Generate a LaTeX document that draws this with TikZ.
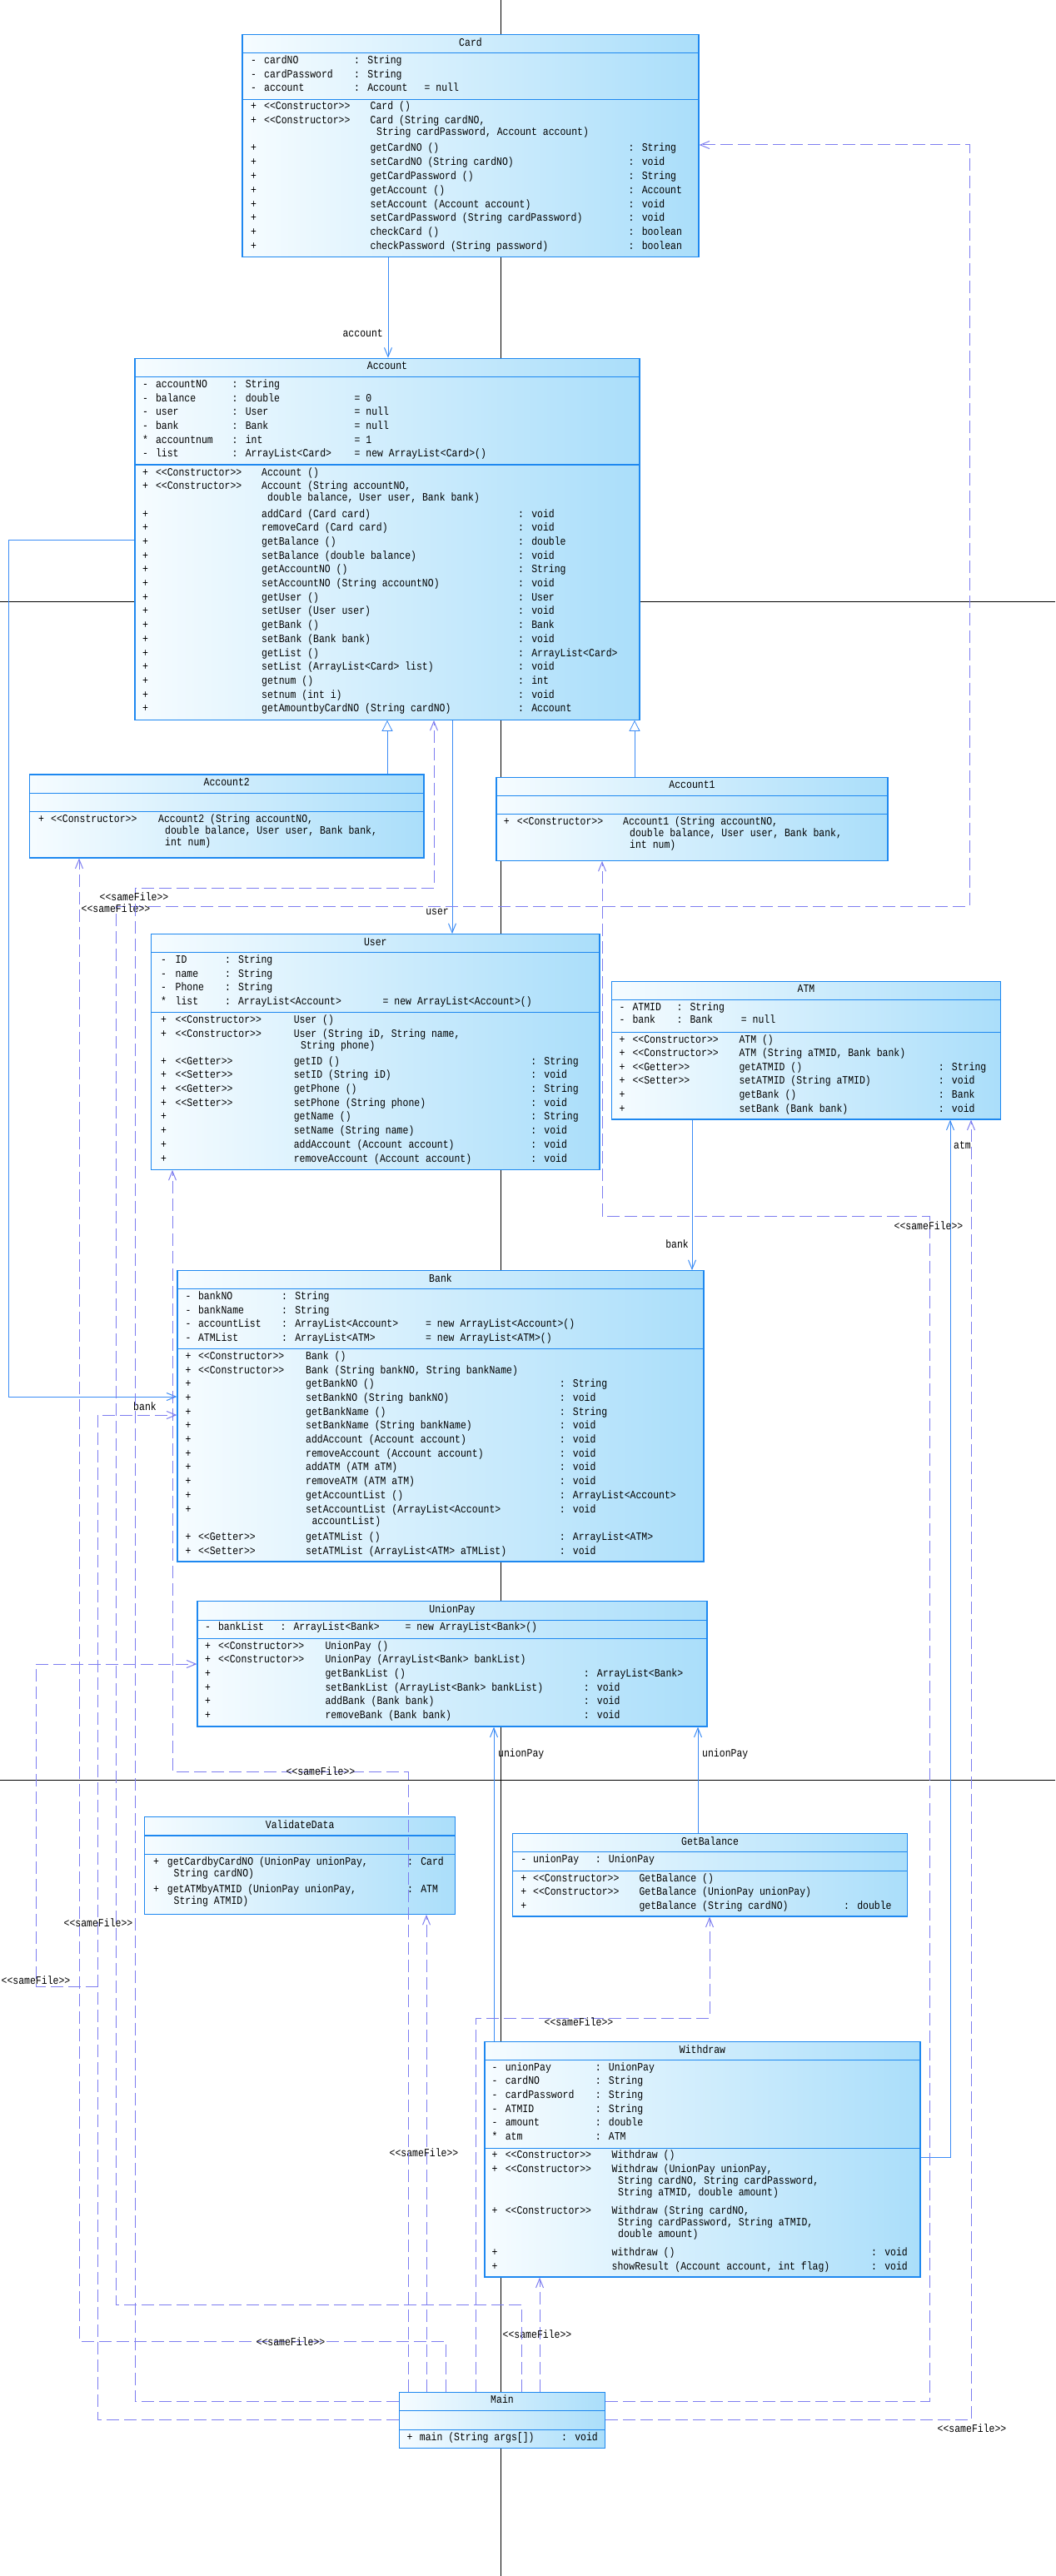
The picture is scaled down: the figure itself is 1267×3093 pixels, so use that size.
\documentclass[tikz,border=0pt]{standalone}
\usepackage{fontspec}
\setmainfont{Liberation Mono}[FakeStretch=0.85]
\usetikzlibrary{arrows.meta,fit}
\definecolor{boxc}{RGB}{30,136,240}
\definecolor{fillL}{RGB}{246,252,255}
\definecolor{fillR}{RGB}{170,222,250}
\definecolor{assoc}{RGB}{60,140,245}
\definecolor{dep}{RGB}{125,125,240}
\newcommand\st[1]{<\kern0pt<#1>\kern0pt>}
\newcounter{tn}
\newcommand\Tx[3]{\stepcounter{tn}\node[txt] (t\arabic{tn}) at (#1,#2) {#3};}
\newcommand\umlclass[8]{%
  \shade[left color=fillL, right color=fillR] (#2,#3) rectangle (#4,#5);
  \shade[left color=fillL, right color=fillR] (#2,#5) rectangle (#4,#6);
  \shade[left color=fillL, right color=fillR] (#2,#6) rectangle (#4,#7);
  \draw[boxc, line width=1.2pt] (#2,#5) -- (#4,#5) (#2,#6) -- (#4,#6);
  \node[fit={(#2,#3) (#4,#7)}, inner sep=0, draw=boxc, line width=1.2pt] (#1) {};
  \node[ttl] (#1-title) at ({(#2+#4)/2},{(#3+#5)/2}) {#8};
}
\tikzset{
 txt/.style={anchor=mid west, inner sep=0, font=\fontsize{13.5}{16}\selectfont},
 ttl/.style={anchor=mid, inner sep=0, font=\fontsize{13.5}{16}\selectfont},
 lbl/.style={inner sep=0, font=\fontsize{13.5}{16}\selectfont},
 assocline/.style={draw=assoc, line width=1pt, -{Straight Barb[length=11pt,width=9pt]}},
 inherit/.style={draw=assoc, line width=0.8pt, -{Triangle[open,length=13pt,width=13pt,fill=white]}},
 depline/.style={draw=dep, line width=1pt, dash pattern=on 15pt off 6pt, -{Straight Barb[length=11pt,width=9pt]}},
 pageline/.style={draw=black, line width=0.8pt},
}
\begin{document}
\begin{tikzpicture}[x=1pt,y=-1pt]
\fill[white] (0,0) rectangle (1267,3093);
\useasboundingbox (0,0) rectangle (1267,3093);
\draw[pageline] (601,0) -- (601,3093);
\draw[pageline] (0,722) -- (1267,722);
\draw[pageline] (0,2137) -- (1267,2137);

% ---------------- Card
\umlclass{card}{291}{41.7}{839}{63.3}{119.3}{308.3}{Card}
\Tx{301}{73.7}{-}\Tx{317}{73.7}{cardNO}\Tx{425}{73.7}{: String}
\Tx{301}{90.7}{-}\Tx{317}{90.7}{cardPassword}\Tx{425}{90.7}{: String}
\Tx{301}{106.7}{-}\Tx{317}{106.7}{account}\Tx{425}{106.7}{: Account}\Tx{509.5}{106.7}{= null}
\Tx{301}{129.3}{+}\Tx{317}{129.3}{\st{Constructor}}\Tx{444.5}{129.3}{Card ()}
\Tx{301}{145.7}{+}\Tx{317}{145.7}{\st{Constructor}}\Tx{444.5}{145.7}{Card (String cardNO,}
\Tx{452}{159.7}{String cardPassword, Account account)}
\Tx{301}{179.3}{+}\Tx{444.5}{179.3}{getCardNO ()}\Tx{754.5}{179.3}{: String}
\Tx{301}{195.7}{+}\Tx{444.5}{195.7}{setCardNO (String cardNO)}\Tx{754.5}{195.7}{: void}
\Tx{301}{212.7}{+}\Tx{444.5}{212.7}{getCardPassword ()}\Tx{754.5}{212.7}{: String}
\Tx{301}{229.7}{+}\Tx{444.5}{229.7}{getAccount ()}\Tx{754.5}{229.7}{: Account}
\Tx{301}{246.7}{+}\Tx{444.5}{246.7}{setAccount (Account account)}\Tx{754.5}{246.7}{: void}
\Tx{301}{262.7}{+}\Tx{444.5}{262.7}{setCardPassword (String cardPassword)}\Tx{754.5}{262.7}{: void}
\Tx{301}{279.7}{+}\Tx{444.5}{279.7}{checkCard ()}\Tx{754.5}{279.7}{: boolean}
\Tx{301}{296.7}{+}\Tx{444.5}{296.7}{checkPassword (String password)}\Tx{754.5}{296.7}{: boolean}

% ---------------- Account
\umlclass{account}{162}{430.3}{768}{452.3}{558}{864.3}{Account}
\Tx{171}{462.7}{-}\Tx{186.8}{462.7}{accountNO}\Tx{278.5}{462.7}{: String}
\Tx{171}{479.7}{-}\Tx{186.8}{479.7}{balance}\Tx{278.5}{479.7}{: double}\Tx{425.4}{479.7}{= 0}
\Tx{171}{495.7}{-}\Tx{186.8}{495.7}{user}\Tx{278.5}{495.7}{: User}\Tx{425.4}{495.7}{= null}
\Tx{171}{512.7}{-}\Tx{186.8}{512.7}{bank}\Tx{278.5}{512.7}{: Bank}\Tx{425.4}{512.7}{= null}
\Tx{171}{529.7}{*}\Tx{186.8}{529.7}{accountnum}\Tx{278.5}{529.7}{: int}\Tx{425.4}{529.7}{= 1}
\Tx{171}{545.7}{-}\Tx{186.8}{545.7}{list}\Tx{278.5}{545.7}{: ArrayList<Card>}\Tx{425.4}{545.7}{= new ArrayList<Card>()}
\Tx{171}{568.7}{+}\Tx{186.8}{568.7}{\st{Constructor}}\Tx{314}{568.7}{Account ()}
\Tx{171}{584.7}{+}\Tx{186.8}{584.7}{\st{Constructor}}\Tx{314}{584.7}{Account (String accountNO,}
\Tx{321}{598.7}{double balance, User user, Bank bank)}
\Tx{171}{618.7}{+}\Tx{314}{618.7}{addCard (Card card)}\Tx{622}{618.7}{: void}
\Tx{171}{634.7}{+}\Tx{314}{634.7}{removeCard (Card card)}\Tx{622}{634.7}{: void}
\Tx{171}{651.7}{+}\Tx{314}{651.7}{getBalance ()}\Tx{622}{651.7}{: double}
\Tx{171}{668.7}{+}\Tx{314}{668.7}{setBalance (double balance)}\Tx{622}{668.7}{: void}
\Tx{171}{684.7}{+}\Tx{314}{684.7}{getAccountNO ()}\Tx{622}{684.7}{: String}
\Tx{171}{701.7}{+}\Tx{314}{701.7}{setAccountNO (String accountNO)}\Tx{622}{701.7}{: void}
\Tx{171}{718.7}{+}\Tx{314}{718.7}{getUser ()}\Tx{622}{718.7}{: User}
\Tx{171}{734.7}{+}\Tx{314}{734.7}{setUser (User user)}\Tx{622}{734.7}{: void}
\Tx{171}{751.7}{+}\Tx{314}{751.7}{getBank ()}\Tx{622}{751.7}{: Bank}
\Tx{171}{768.7}{+}\Tx{314}{768.7}{setBank (Bank bank)}\Tx{622}{768.7}{: void}
\Tx{171}{785.7}{+}\Tx{314}{785.7}{getList ()}\Tx{622}{785.7}{: ArrayList<Card>}
\Tx{171}{801.7}{+}\Tx{314}{801.7}{setList (ArrayList<Card> list)}\Tx{622}{801.7}{: void}
\Tx{171}{818.7}{+}\Tx{314}{818.7}{getnum ()}\Tx{622}{818.7}{: int}
\Tx{171}{835.7}{+}\Tx{314}{835.7}{setnum (int i)}\Tx{622}{835.7}{: void}
\Tx{171}{852}{+}\Tx{314}{852}{getAmountbyCardNO (String cardNO)}\Tx{622}{852}{: Account}

% ---------------- Account2
\umlclass{account2}{35.5}{930}{509}{952.3}{974.3}{1030}{Account2}
\Tx{46}{985.3}{+}\Tx{61}{985.3}{\st{Constructor}}\Tx{190}{985.3}{Account2 (String accountNO,}
\Tx{198}{999.3}{double balance, User user, Bank bank,}
\Tx{198}{1013.3}{int num)}

% ---------------- Account1
\umlclass{account1}{596}{933.3}{1066}{955.3}{977.3}{1033.3}{Account1}
\Tx{604.7}{987.7}{+}\Tx{620.7}{987.7}{\st{Constructor}}\Tx{748}{987.7}{Account1 (String accountNO,}
\Tx{756}{1002.3}{double balance, User user, Bank bank,}
\Tx{756}{1016}{int num)}

% ---------------- User
\umlclass{user}{181.6}{1121.7}{720}{1143.3}{1215.7}{1404.3}{User}
\Tx{193}{1153.7}{-}\Tx{210.5}{1153.7}{ID}\Tx{269.8}{1153.7}{: String}
\Tx{193}{1170.7}{-}\Tx{210.5}{1170.7}{name}\Tx{269.8}{1170.7}{: String}
\Tx{193}{1186.7}{-}\Tx{210.5}{1186.7}{Phone}\Tx{269.8}{1186.7}{: String}
\Tx{193}{1203.7}{*}\Tx{210.5}{1203.7}{list}\Tx{269.8}{1203.7}{: ArrayList<Account>}\Tx{459.5}{1203.7}{= new ArrayList<Account>()}
\Tx{193}{1225.7}{+}\Tx{210.5}{1225.7}{\st{Constructor}}\Tx{352.6}{1225.7}{User ()}
\Tx{193}{1242.7}{+}\Tx{210.5}{1242.7}{\st{Constructor}}\Tx{352.6}{1242.7}{User (String iD, String name,}
\Tx{360.8}{1256.7}{String phone)}
\Tx{193}{1275.7}{+}\Tx{210.5}{1275.7}{\st{Getter}}\Tx{352.6}{1275.7}{getID ()}\Tx{637.1}{1275.7}{: String}
\Tx{193}{1292.3}{+}\Tx{210.5}{1292.3}{\st{Setter}}\Tx{352.6}{1292.3}{setID (String iD)}\Tx{637.1}{1292.3}{: void}
\Tx{193}{1308.7}{+}\Tx{210.5}{1308.7}{\st{Getter}}\Tx{352.6}{1308.7}{getPhone ()}\Tx{637.1}{1308.7}{: String}
\Tx{193}{1325.7}{+}\Tx{210.5}{1325.7}{\st{Setter}}\Tx{352.6}{1325.7}{setPhone (String phone)}\Tx{637.1}{1325.7}{: void}
\Tx{193}{1342.3}{+}\Tx{352.6}{1342.3}{getName ()}\Tx{637.1}{1342.3}{: String}
\Tx{193}{1358.7}{+}\Tx{352.6}{1358.7}{setName (String name)}\Tx{637.1}{1358.7}{: void}
\Tx{193}{1375.7}{+}\Tx{352.6}{1375.7}{addAccount (Account account)}\Tx{637.1}{1375.7}{: void}
\Tx{193}{1392.7}{+}\Tx{352.6}{1392.7}{removeAccount (Account account)}\Tx{637.1}{1392.7}{: void}

% ---------------- ATM
\umlclass{atm}{734.3}{1178.3}{1201.7}{1200.3}{1239.3}{1344}{ATM}
\Tx{743.3}{1210.7}{-}\Tx{759.3}{1210.7}{ATMID}\Tx{812.3}{1210.7}{: String}
\Tx{743.3}{1226}{-}\Tx{759.3}{1226}{bank}\Tx{812.3}{1226}{: Bank}\Tx{889.7}{1226}{= null}
\Tx{743.3}{1250}{+}\Tx{759.3}{1250}{\st{Constructor}}\Tx{887.3}{1250}{ATM ()}
\Tx{743.3}{1266}{+}\Tx{759.3}{1266}{\st{Constructor}}\Tx{887.3}{1266}{ATM (String aTMID, Bank bank)}
\Tx{743.3}{1282.7}{+}\Tx{759.3}{1282.7}{\st{Getter}}\Tx{887.3}{1282.7}{getATMID ()}\Tx{1126.7}{1282.7}{: String}
\Tx{743.3}{1299.3}{+}\Tx{759.3}{1299.3}{\st{Setter}}\Tx{887.3}{1299.3}{setATMID (String aTMID)}\Tx{1126.7}{1299.3}{: void}
\Tx{743.3}{1315.7}{+}\Tx{887.3}{1315.7}{getBank ()}\Tx{1126.7}{1315.7}{: Bank}
\Tx{743.3}{1332.7}{+}\Tx{887.3}{1332.7}{setBank (Bank bank)}\Tx{1126.7}{1332.7}{: void}

% ---------------- Bank
\umlclass{bank}{213}{1525.7}{845}{1547.3}{1619.3}{1875}{Bank}
\Tx{222.5}{1557.7}{-}\Tx{237.8}{1557.7}{bankNO}\Tx{338}{1557.7}{: String}
\Tx{222.5}{1574.7}{-}\Tx{237.8}{1574.7}{bankName}\Tx{338}{1574.7}{: String}
\Tx{222.5}{1591}{-}\Tx{237.8}{1591}{accountList}\Tx{338}{1591}{: ArrayList<Account>}\Tx{511}{1591}{= new ArrayList<Account>()}
\Tx{222.5}{1607.7}{-}\Tx{237.8}{1607.7}{ATMList}\Tx{338}{1607.7}{: ArrayList<ATM>}\Tx{511}{1607.7}{= new ArrayList<ATM>()}
\Tx{222.5}{1629.7}{+}\Tx{237.8}{1629.7}{\st{Constructor}}\Tx{367}{1629.7}{Bank ()}
\Tx{222.5}{1646.7}{+}\Tx{237.8}{1646.7}{\st{Constructor}}\Tx{367}{1646.7}{Bank (String bankNO, String bankName)}
\Tx{222.5}{1662.7}{+}\Tx{367}{1662.7}{getBankNO ()}\Tx{671.6}{1662.7}{: String}
\Tx{222.5}{1679.7}{+}\Tx{367}{1679.7}{setBankNO (String bankNO)}\Tx{671.6}{1679.7}{: void}
\Tx{222.5}{1696.7}{+}\Tx{367}{1696.7}{getBankName ()}\Tx{671.6}{1696.7}{: String}
\Tx{222.5}{1713}{+}\Tx{367}{1713}{setBankName (String bankName)}\Tx{671.6}{1713}{: void}
\Tx{222.5}{1729.7}{+}\Tx{367}{1729.7}{addAccount (Account account)}\Tx{671.6}{1729.7}{: void}
\Tx{222.5}{1746.7}{+}\Tx{367}{1746.7}{removeAccount (Account account)}\Tx{671.6}{1746.7}{: void}
\Tx{222.5}{1763.3}{+}\Tx{367}{1763.3}{addATM (ATM aTM)}\Tx{671.6}{1763.3}{: void}
\Tx{222.5}{1780}{+}\Tx{367}{1780}{removeATM (ATM aTM)}\Tx{671.6}{1780}{: void}
\Tx{222.5}{1796.7}{+}\Tx{367}{1796.7}{getAccountList ()}\Tx{671.6}{1796.7}{: ArrayList<Account>}
\Tx{222.5}{1813.7}{+}\Tx{367}{1813.7}{setAccountList (ArrayList<Account>}\Tx{671.6}{1813.7}{: void}
\Tx{374.4}{1827.7}{accountList)}
\Tx{222.5}{1846.7}{+}\Tx{237.8}{1846.7}{\st{Getter}}\Tx{367}{1846.7}{getATMList ()}\Tx{671.6}{1846.7}{: ArrayList<ATM>}
\Tx{222.5}{1863.7}{+}\Tx{237.8}{1863.7}{\st{Setter}}\Tx{367}{1863.7}{setATMList (ArrayList<ATM> aTMList)}\Tx{671.6}{1863.7}{: void}

% ---------------- UnionPay
\umlclass{unionpay}{237}{1922.3}{849}{1945.7}{1967.3}{2073}{UnionPay}
\Tx{245.8}{1955}{-}\Tx{261.8}{1955}{bankList}\Tx{336.3}{1955}{: ArrayList<Bank>}\Tx{486.5}{1955}{= new ArrayList<Bank>()}
\Tx{245.8}{1978}{+}\Tx{261.8}{1978}{\st{Constructor}}\Tx{390.4}{1978}{UnionPay ()}
\Tx{245.8}{1994.3}{+}\Tx{261.8}{1994.3}{\st{Constructor}}\Tx{390.4}{1994.3}{UnionPay (ArrayList<Bank> bankList)}
\Tx{245.8}{2011}{+}\Tx{390.4}{2011}{getBankList ()}\Tx{700.7}{2011}{: ArrayList<Bank>}
\Tx{245.8}{2027.7}{+}\Tx{390.4}{2027.7}{setBankList (ArrayList<Bank> bankList)}\Tx{700.7}{2027.7}{: void}
\Tx{245.8}{2043.7}{+}\Tx{390.4}{2043.7}{addBank (Bank bank)}\Tx{700.7}{2043.7}{: void}
\Tx{245.8}{2060.7}{+}\Tx{390.4}{2060.7}{removeBank (Bank bank)}\Tx{700.7}{2060.7}{: void}

% ---------------- ValidateData
\umlclass{validatedata}{173.7}{2181.7}{546.7}{2204}{2226.3}{2298.3}{ValidateData}
\Tx{184}{2237}{+}\Tx{200.7}{2237}{getCardbyCardNO (UnionPay unionPay,}\Tx{489}{2237}{: Card}
\Tx{208.5}{2251}{String cardNO)}
\Tx{184}{2270.3}{+}\Tx{200.7}{2270.3}{getATMbyATMID (UnionPay unionPay,}\Tx{489}{2270.3}{: ATM}
\Tx{208.5}{2284.3}{String ATMID)}

% ---------------- GetBalance
\umlclass{getbalance}{615.7}{2201.7}{1089.4}{2223.3}{2246.3}{2301}{GetBalance}
\Tx{625.2}{2233.7}{-}\Tx{640}{2233.7}{unionPay}\Tx{714.6}{2233.7}{: UnionPay}
\Tx{625.2}{2257.3}{+}\Tx{640}{2257.3}{\st{Constructor}}\Tx{767.3}{2257.3}{GetBalance ()}
\Tx{625.2}{2273.3}{+}\Tx{640}{2273.3}{\st{Constructor}}\Tx{767.3}{2273.3}{GetBalance (UnionPay unionPay)}
\Tx{625.2}{2289.7}{+}\Tx{767.3}{2289.7}{getBalance (String cardNO)}\Tx{1013}{2289.7}{: double}

% ---------------- Withdraw
\umlclass{withdraw}{582}{2451.7}{1105}{2473.3}{2579.7}{2734}{Withdraw}
\Tx{590.5}{2484}{-}\Tx{606.6}{2484}{unionPay}\Tx{714.6}{2484}{: UnionPay}
\Tx{590.5}{2500}{-}\Tx{606.6}{2500}{cardNO}\Tx{714.6}{2500}{: String}
\Tx{590.5}{2516.7}{-}\Tx{606.6}{2516.7}{cardPassword}\Tx{714.6}{2516.7}{: String}
\Tx{590.5}{2533.7}{-}\Tx{606.6}{2533.7}{ATMID}\Tx{714.6}{2533.7}{: String}
\Tx{590.5}{2549.7}{-}\Tx{606.6}{2549.7}{amount}\Tx{714.6}{2549.7}{: double}
\Tx{590.5}{2567}{*}\Tx{606.6}{2567}{atm}\Tx{714.6}{2567}{: ATM}
\Tx{590.5}{2588.7}{+}\Tx{606.6}{2588.7}{\st{Constructor}}\Tx{734.5}{2588.7}{Withdraw ()}
\Tx{590.5}{2606}{+}\Tx{606.6}{2606}{\st{Constructor}}\Tx{734.5}{2606}{Withdraw (UnionPay unionPay,}
\Tx{742}{2620}{String cardNO, String cardPassword,}
\Tx{742}{2634}{String aTMID, double amount)}
\Tx{590.5}{2655.7}{+}\Tx{606.6}{2655.7}{\st{Constructor}}\Tx{734.5}{2655.7}{Withdraw (String cardNO,}
\Tx{742}{2670}{String cardPassword, String aTMID,}
\Tx{742}{2684}{double amount)}
\Tx{590.5}{2705.7}{+}\Tx{734.5}{2705.7}{withdraw ()}\Tx{1046}{2705.7}{: void}
\Tx{590.5}{2722.7}{+}\Tx{734.5}{2722.7}{showResult (Account account, int flag)}\Tx{1046}{2722.7}{: void}

% ---------------- Main
\umlclass{main}{479.5}{2872.3}{726.5}{2894.3}{2917.3}{2939.3}{Main}
\Tx{488.3}{2928}{+}\Tx{503.7}{2928}{main (String args[])}\Tx{674}{2928}{: void}

% ---------------- associations
\draw[assocline] (466,0 |- card.south) -- (466,0 |- account.north);
\node[lbl, anchor=east] (lacc) at (460,400) {account};
\draw[assocline] (543,0 |- account.south) -- (543,0 |- user.north);
\node[lbl, anchor=east] (luser) at (539,1095) {user};
\draw[assocline] (account.west |- 0,648) -- (10,648) -- (10,1677) -- (bank.west |- 0,1677);
\node[lbl] (lbank1) at (174,1689) {bank};
\draw[assocline] (831,0 |- atm.south) -- (831,0 |- bank.north);
\node[lbl, anchor=east] (lbank2) at (827,1494) {bank};
\draw[assocline] (withdraw.east |- 0,2590) -- (1141,2590) -- (1141,0 |- atm.south);
\node[lbl, anchor=west] (latm) at (1145,1375) {atm};
\draw[assocline] (593,0 |- withdraw.north) -- (593,0 |- unionpay.south);
\node[lbl, anchor=west] (lup1) at (598,2106) {unionPay};
\draw[assocline] (838,0 |- getbalance.north) -- (838,0 |- unionpay.south);
\node[lbl, anchor=west] (lup2) at (843,2106) {unionPay};
% ---------------- inheritance
\draw[inherit] (465,0 |- account2.north) -- (465,0 |- account.south);
\draw[inherit] (762,0 |- account1.north) -- (762,0 |- account.south);

% ---------------- dependencies from Main
\draw[depline] (648,0 |- main.north) -- (648,0 |- withdraw.south);
\node[lbl] (s1) at (645,2803) {\st{sameFile}};
\draw[depline] (512,0 |- main.north) -- (512,0 |- validatedata.south);
\node[lbl] (s2) at (509,2585) {\st{sameFile}};
\draw[depline] (571,0 |- main.north) -- (571,2423) -- (852,2423) -- (852,0 |- getbalance.south);
\node[lbl] (s3) at (695,2428) {\st{sameFile}};
\draw[depline] (535,0 |- main.north) -- (535,2811) -- (95,2811) -- (95,0 |- account2.south);
\node[lbl] (s4) at (349,2812) {\st{sameFile}};
\draw[depline] (626,0 |- main.north) -- (626,2767) -- (139,2767) -- (139,1088) -- (1164,1088) -- (1164,174) -- (card.east |- 0,174);
\node[lbl] (s5) at (139,1091) {\st{sameFile}};
\draw[depline] (main.west |- 0,2883.3) -- (162,2883.3) -- (162,1066) -- (521,1066) -- (521,0 |- account.south);
\node[lbl] (s6) at (161,1077) {\st{sameFile}};
\draw[depline] (main.east |- 0,2883.3) -- (1116,2883.3) -- (1116,1460) -- (723,1460) -- (723,0 |- account1.south);
\node[lbl] (s7) at (1115,1472) {\st{sameFile}};
\draw[depline] (main.east) -- (1166,0 |- main.east) -- (1166,0 |- atm.south);
\node[lbl] (s8) at (1167,2916) {\st{sameFile}};
\draw[depline] (490,0 |- main.north) -- (490,2127) -- (207,2127) -- (207,0 |- user.south);
\node[lbl] (s9) at (385,2127) {\st{sameFile}};
\draw[depline] (main.west) -- (117,0 |- main.west) -- (117,1699) -- (bank.west |- 0,1699);
\node[lbl] (s10) at (118,2309) {\st{sameFile}};
\draw[depline] (main.west) -- (117,0 |- main.west) -- (117,2385) -- (43,2385) -- (43,1998) -- (unionpay.west |- 0,1998);
\node[lbl] (s11) at (43,2378) {\st{sameFile}};
\end{tikzpicture}
\end{document}
